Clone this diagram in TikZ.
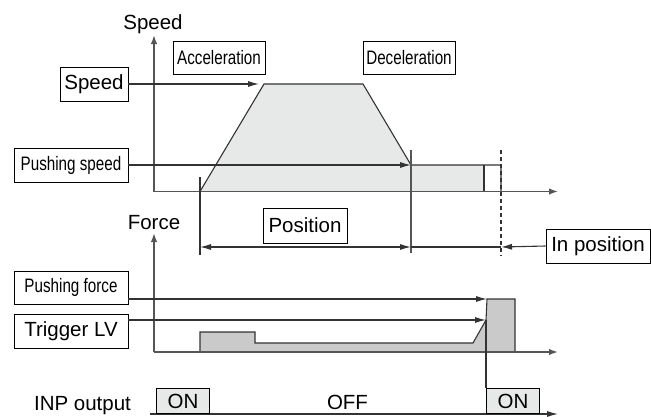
\documentclass[tikz,border=0pt]{standalone}
\usepackage{fontspec}
\setmainfont{Liberation Sans}
\newfontfamily\narrowfont[FakeStretch=0.78]{Liberation Sans}
\usetikzlibrary{arrows.meta}
\definecolor{lightfill}{HTML}{E7E8E8}
\definecolor{darkfill}{HTML}{CACACA}
\definecolor{axisgray}{HTML}{555555}
\definecolor{linegray}{HTML}{333333}
\tikzset{
  box/.style={draw=black, line width=0.9pt, fill=white, inner sep=0pt, font=\fontsize{20.5}{24}\selectfont},
  nbox/.style={box, font=\narrowfont\fontsize{19.5}{23}\selectfont},
  onbox/.style={box, fill=lightfill, minimum width=53pt, minimum height=25pt},
  axis/.style={line width=1.6pt, draw=axisgray, -{Latex[length=9pt,width=6.5pt]}},
  tip/.tip={Latex[length=11pt,width=6pt]},
  arr/.style={line width=1.1pt, draw=linegray, -tip},
  plain/.style={line width=1.1pt, draw=linegray},
  lbl/.style={font=\fontsize{20.5}{24}\selectfont, inner sep=0pt, anchor=base}
}
\begin{document}
\begin{tikzpicture}[x=1pt,y=-1pt]
\useasboundingbox (0,0) rectangle (651,416);

% ---------- speed graph ----------
\coordinate (so) at (154,191.5);
\coordinate (stop) at (154,35);
\coordinate (send) at (558,191.5);
\fill[lightfill] (200,191.5) -- (264,84) -- (363,84) -- (411,165) -- (484,165) -- (484,191.5) -- cycle;
\coordinate (a0) at (200,191.5);
\coordinate (a1) at (264,84);
\coordinate (a2) at (363,84);
\coordinate (a3) at (411,165);
\coordinate (a4) at (484,165);
\coordinate (a5) at (501,165);
\draw[plain] (a0) -- (a1) -- (a2) -- (a3) -- (a5) -- (501,191.5);
\draw[plain] (a4) -- (484,191.5);
\draw[axis] (so) -- (stop);
\draw[axis] (so) -- (send);
\node[lbl] (speedlbl) at (153,29) {Speed};

\node[box, minimum width=68pt, minimum height=34pt] (spd) at (94,84) {Speed};
\node[nbox, minimum width=114pt, minimum height=34pt] (pspd) at (71,165) {Pushing speed};
\node[nbox, minimum width=92pt, minimum height=33pt] (acc) at (219,57.5) {Acceleration};
\node[nbox, minimum width=92pt, minimum height=33pt] (dec) at (409,57.5) {Deceleration};

\coordinate (spdtip) at (259,84);
\draw[arr] (spd.east) -- (spdtip);
\draw[arr] (pspd.east) -- (a3);

% vertical markers
\coordinate (v1t) at (200,177);
\coordinate (v1b) at (200,255);
\coordinate (v2t) at (411,150);
\coordinate (v2b) at (411,253);
\coordinate (v3t) at (501,150);
\coordinate (v3b) at (501,256);
\draw[plain] (v1t) -- (v1b);
\draw[line width=1.4pt, draw=axisgray] (v2t) -- (v2b);
\draw[plain, dash pattern=on 4pt off 3pt] (v3t) -- (v3b);

% position dimension
\coordinate (p0) at (200,247);
\coordinate (p1) at (411,247);
\coordinate (p2) at (501,247);
\draw[plain, tip-tip] (p0) -- (p1);
\draw[plain] (p1) -- (p2);
\node[box, minimum width=84pt, minimum height=35pt] (pos) at (305,225.5) {Position};
\node[box, minimum width=104pt, minimum height=34pt] (inpos) at (598,246) {In position};
\draw[arr] (inpos.west) -- (p2);

% ---------- force graph ----------
\coordinate (fo) at (154,352);
\coordinate (ftop) at (154,233);
\coordinate (fend) at (558,352);
\coordinate (f1) at (200,332);
\coordinate (f2) at (255,332);
\coordinate (f3) at (255,343);
\coordinate (f4) at (473,343);
\coordinate (f5) at (486,320);
\coordinate (f6) at (487,299);
\coordinate (f7) at (515,299);
\coordinate (f8) at (515,352);
\draw[plain, fill=darkfill] (200,352) -- (f1) -- (f2) -- (f3) -- (f4) -- (f5) -- (f6) -- (f7) -- (f8);
\draw[axis] (fo) -- (ftop);
\draw[axis] (fo) -- (fend);
\node[lbl] (forcelbl) at (154,229) {Force};

\node[nbox, minimum width=114pt, minimum height=33pt] (pf) at (71,287.5) {Pushing force};
\node[box, minimum width=114pt, minimum height=34pt] (tlv) at (71,331) {Trigger LV};
\draw[arr] (pf.east |- f6) -- (f6);
\draw[arr] (tlv.east |- f5) -- (f5);

% ---------- INP output ----------
\node[lbl] (inplbl) at (82.5,410) {INP output};
\coordinate (i0) at (150,414);
\coordinate (i1) at (558,414);
\draw[arr] (i0) -- (i1);
\node[onbox, anchor=south west] (on1) at (156,414) {ON};
\node[onbox, anchor=south west] (on2) at (486,414) {ON};
\node[lbl] (off) at (347.5,409) {OFF};
\draw[plain] (f5) -- (on2.north west);
\end{tikzpicture}
\end{document}
